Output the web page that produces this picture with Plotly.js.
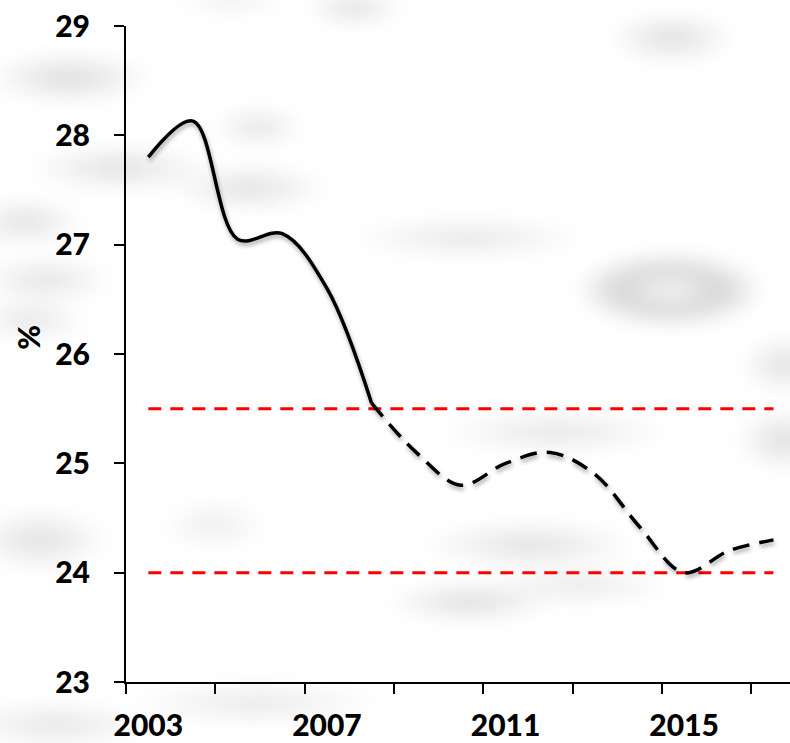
<!DOCTYPE html>
<html>
<head>
<meta charset="utf-8">
<script src="https://cdn.plot.ly/plotly-3.0.1.min.js"></script>
<style>
  html, body { margin: 0; padding: 0; background: #ffffff; }
  #wrap { position: relative; width: 790px; height: 743px; overflow: hidden; background: #ffffff; }
  #bg { position: absolute; left: -20px; top: -20px; width: 830px; height: 783px; filter: blur(9px); }
  #chart { position: absolute; left: 0; top: 0; width: 790px; height: 743px; }
  path.js-line[style*="stroke: rgb(0, 0, 0)"] { filter: drop-shadow(1px 3px 2px rgba(0,0,0,0.35)); }
</style>
</head>
<body>
<div id="wrap">
  <div id="bg"></div>
  <div id="chart"></div>
</div>
<script>
// Data
const yearsSolid  = [2003, 2004, 2005, 2006, 2007, 2008];
const valuesSolid = [27.8, 28.13, 27.05, 27.1, 26.6, 25.55];

const yearsDashed  = [2008, 2009, 2010, 2011, 2012, 2013, 2014, 2015, 2016, 2017];
const valuesDashed = [25.55, 25.1, 24.8, 25.0, 25.1, 24.9, 24.42, 24.0, 24.2, 24.3];

const refYears  = [2003, 2017];
const upperBand = [25.5, 25.5];
const lowerBand = [24.0, 24.0];

const labelYears = [2003, 2007, 2011, 2015];
const tickBoundaries = [2002.5, 2004.5, 2006.5, 2008.5, 2010.5, 2012.5, 2014.5, 2016.5];
const yTicks = [23, 24, 25, 26, 27, 28, 29];

const xRange = [2002.5, 2017.37];
const yRange = [23, 29];

// Faint blurred background smudges (decoration only): [cx, cy, rx, ry, alpha, ring]
const smudges = [
  [355, 8, 50, 18, 0.13, 0], [230, 0, 60, 14, 0.07, 0], [672, 38, 65, 26, 0.13, 0], [70, 78, 85, 26, 0.14, 0],
  [258, 127, 48, 20, 0.11, 0], [120, 168, 95, 24, 0.12, 0], [250, 188, 80, 24, 0.12, 0], [25, 222, 60, 24, 0.12, 0],
  [468, 238, 120, 20, 0.10, 0], [670, 290, 95, 38, 0.16, 1], [45, 280, 70, 24, 0.11, 0], [30, 320, 60, 22, 0.10, 0],
  [785, 365, 45, 30, 0.12, 0], [785, 440, 50, 32, 0.13, 0], [555, 432, 120, 22, 0.10, 0], [40, 540, 70, 32, 0.12, 0],
  [215, 525, 55, 26, 0.07, 0], [530, 545, 110, 24, 0.12, 0], [470, 602, 85, 20, 0.14, 0], [580, 585, 95, 20, 0.09, 0],
  [255, 703, 130, 22, 0.09, 0], [55, 725, 100, 24, 0.10, 0]
];
document.getElementById('bg').style.background = smudges.map(s => {
  const cx = s[0] + 20, cy = s[1] + 20;
  if (s[5]) {
    return `radial-gradient(ellipse ${s[2]}px ${s[3]}px at ${cx}px ${cy}px, rgba(0,0,0,0.03) 0%, rgba(0,0,0,${s[4]}) 55%, rgba(0,0,0,0) 100%)`;
  }
  return `radial-gradient(ellipse ${s[2]}px ${s[3]}px at ${cx}px ${cy}px, rgba(0,0,0,${s[4]}) 0%, rgba(0,0,0,0) 100%)`;
}).join(',');

const font = { family: 'Lato, "Open Sans", sans-serif', size: 30, color: '#000000', weight: 900 };

const traces = [
  { x: refYears, y: upperBand, mode: 'lines', line: { color: '#ff0000', width: 3, dash: '13px,9px' }, hoverinfo: 'skip' },
  { x: refYears, y: lowerBand, mode: 'lines', line: { color: '#ff0000', width: 3, dash: '13px,9px' }, hoverinfo: 'skip' },
  { x: yearsSolid, y: valuesSolid, mode: 'lines', line: { color: '#000000', width: 3.5, shape: 'spline', smoothing: 1 } },
  { x: yearsDashed, y: valuesDashed, mode: 'lines', line: { color: '#000000', width: 3.5, shape: 'spline', smoothing: 1, dash: '17px,10px' } },
  { x: labelYears, y: labelYears.map(() => null), xaxis: 'x2', mode: 'lines', hoverinfo: 'skip', showlegend: false }
];

const layout = {
  width: 790,
  height: 743,
  margin: { l: 126, r: 0, t: 26, b: 61 },
  paper_bgcolor: 'rgba(0,0,0,0)',
  plot_bgcolor: 'rgba(0,0,0,0)',
  showlegend: false,
  font: font,
  xaxis: {
    range: xRange,
    tickmode: 'array',
    tickvals: tickBoundaries,
    ticktext: tickBoundaries.map(() => ''),
    ticks: 'outside', ticklen: 10, tickwidth: 2, tickcolor: '#000',
    showline: true, linewidth: 2, linecolor: '#000',
    showgrid: false, zeroline: false
  },
  xaxis2: {
    overlaying: 'x', anchor: 'y', side: 'bottom',
    range: xRange,
    tickmode: 'array',
    tickvals: labelYears,
    ticktext: labelYears.map(String),
    ticks: '', ticklen: 10,
    ticklabelstandoff: 23,
    showline: false, showgrid: false, zeroline: false,
    tickfont: font
  },
  yaxis: {
    range: yRange,
    tickmode: 'array',
    tickvals: yTicks,
    ticktext: yTicks.map(String),
    ticks: 'outside', ticklen: 10, tickwidth: 2, tickcolor: '#000',
    ticklabelstandoff: 18,
    showline: true, linewidth: 2, linecolor: '#000',
    showgrid: false, zeroline: false,
    tickfont: font
  },
  annotations: [{
    text: '%', xref: 'paper', yref: 'paper', x: -0.148, y: 0.526,
    xanchor: 'center', yanchor: 'middle', textangle: -90, showarrow: false,
    font: font
  }]
};

Plotly.newPlot('chart', traces, layout, { staticPlot: true, displayModeBar: false });
</script>
</body>
</html>
